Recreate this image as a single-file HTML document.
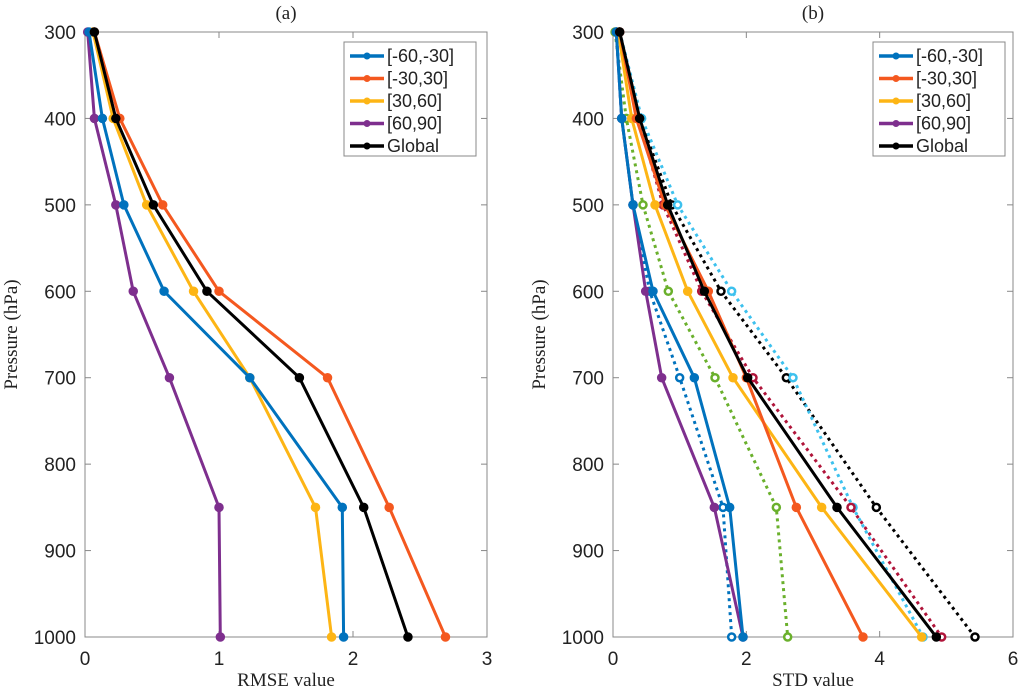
<!DOCTYPE html>
<html><head><meta charset="utf-8">
<style>
html,body{margin:0;padding:0;background:#fff;}
svg text{fill:#222;}
.tick{font-family:"Liberation Sans",sans-serif;font-size:19px;}
.ser{font-family:"Liberation Serif",serif;font-size:19px;}
.leg{font-family:"Liberation Sans",sans-serif;font-size:18px;}
</style></head>
<body>
<svg id="chart" width="1024" height="691" xmlns="http://www.w3.org/2000/svg"></svg>
<script>
const levels=[300,400,500,600,700,850,1000];
const yTicks=[300,400,500,600,700,800,900,1000];
const xTicksA=[0,1,2,3];
const xTicksB=[0,2,4,6];
const legendLabels=["[-60,-30]","[-30,30]","[30,60]","[60,90]","Global"];
// panel a RMSE
const rmseS=[0.03,0.13,0.29,0.59,1.23,1.92,1.93];
const rmseT=[0.07,0.26,0.58,1.0,1.81,2.27,2.69];
const rmseN=[0.06,0.21,0.46,0.81,1.23,1.72,1.84];
const rmseP=[0.02,0.07,0.23,0.36,0.63,1.0,1.01];
const rmseG=[0.07,0.23,0.51,0.91,1.6,2.08,2.41];
// panel b STD solid
const stdS=[0.05,0.13,0.3,0.6,1.22,1.75,1.95];
const stdT=[0.1,0.35,0.78,1.43,2.0,2.75,3.75];
const stdN=[0.08,0.28,0.63,1.12,1.8,3.13,4.63];
const stdP=[0.05,0.13,0.3,0.49,0.73,1.52,1.95];
const stdG=[0.1,0.4,0.82,1.37,2.02,3.36,4.85];
// panel b STD dotted
const dotBlue=[0.05,0.13,0.3,0.55,1.0,1.65,1.78];
const dotGreen=[0.03,0.2,0.45,0.83,1.53,2.45,2.62];
const dotRed=[0.1,0.38,0.75,1.33,2.1,3.57,4.93];
const dotCyan=[0.1,0.43,0.97,1.78,2.7,3.6,4.65];
const dotBlack=[0.1,0.4,0.88,1.62,2.6,3.95,5.43];

const C={blue:"#0072BD",orange:"#F4581F",yellow:"#FDB515",purple:"#7E2F8E",black:"#000",cyan:"#3DC1EE",green:"#6AB02C",red:"#B0143A"};
const svg=document.getElementById('chart');
const NS="http://www.w3.org/2000/svg";
function mk(tag,attrs,parent){const e=document.createElementNS(NS,tag);for(const k in attrs)e.setAttribute(k,attrs[k]);(parent||svg).appendChild(e);return e;}
const Y0=32,Y1=637;
function yS(p){return Y0+(p-300)/700*(Y1-Y0);}

function panel(x0,x1,xmax,xTicks,title,xlabel,series,legendX){
  const xS=v=>x0+v/xmax*(x1-x0);
  const g=mk('g',{});
  
  
  const box=mk('rect',{x:x0,y:Y0,width:x1-x0,height:Y1-Y0,fill:'none',stroke:'#888','stroke-width':1},g);
  
  
  xTicks.forEach(v=>{
    const x=xS(v);
    mk('line',{x1:x,x2:x,y1:Y1,y2:Y1-6,stroke:'#888'},g);
    mk('line',{x1:x,x2:x,y1:Y0,y2:Y0+6,stroke:'#888'},g);
    const t=mk('text',{x:x,y:Y1+28,'text-anchor':'middle',class:'tick'},g);t.textContent=v;
    
    
  });
  yTicks.forEach(p=>{
    const y=yS(p);
    mk('line',{x1:x0,x2:x0+6,y1:y,y2:y,stroke:'#888'},g);
    mk('line',{x1:x1,x2:x1-6,y1:y,y2:y,stroke:'#888'},g);
    const t=mk('text',{x:x0-9,y:y+7,'text-anchor':'end',class:'tick'},g);t.textContent=p;
    
    
  });
  const tt=mk('text',{x:(x0+x1)/2,y:19,'text-anchor':'middle',class:'ser'},g);tt.textContent=title;
  
  
  const xl=mk('text',{x:(x0+x1)/2,y:686,'text-anchor':'middle',class:'ser'},g);xl.textContent=xlabel;
  
  
  const yl=mk('text',{x:0,y:0,'text-anchor':'middle',class:'ser',transform:`translate(${x0-68},${(Y0+Y1)/2}) rotate(-90)`},g);yl.textContent='Pressure (hPa)';
  
  
  series.forEach(s=>{
    const pts=s.v.map((v,i)=>xS(v).toFixed(1)+','+yS(levels[i]).toFixed(1)).join(' ');
    const pl=mk('polyline',{points:pts,fill:'none',stroke:s.c,'stroke-width':3,'stroke-dasharray':s.d?'3 4':'none'},g);
    
    
    s.v.forEach((v,i)=>{
      const m=mk('circle',{cx:xS(v),cy:yS(levels[i]),r:3.5,fill:s.d?'#fff':s.c,stroke:s.c,'stroke-width':2.5},g);
      
      
    });
  });
  const lg=mk('g',{},g);
  
  
  mk('rect',{x:legendX,y:42,width:132,height:114,fill:'#fff',stroke:'#888'},lg);
  const lc=[C.blue,C.orange,C.yellow,C.purple,C.black];
  legendLabels.forEach((l,i)=>{
    const y=56+i*22.5;
    mk('line',{x1:legendX+6,x2:legendX+40,y1:y,y2:y,stroke:lc[i],'stroke-width':3.5},lg);
    mk('circle',{cx:legendX+23,cy:y,r:3.5,fill:lc[i]},lg);
    const t=mk('text',{x:legendX+43,y:y+6,class:'leg'},lg);t.textContent=l;
    
    
  });
}
panel(85,487,3,xTicksA,'(a)','RMSE value',[
  {v:rmseP,c:C.purple,n:'60-90'},{v:rmseN,c:C.yellow,n:'30-60'},{v:rmseS,c:C.blue,n:'m60-m30'},
  {v:rmseT,c:C.orange,n:'m30-30'},{v:rmseG,c:C.black,n:'global'}],344);
panel(613,1013,6,xTicksB,'(b)','STD value',[
  {v:dotBlack,c:C.black,d:1,n:'global-dotted'},{v:dotCyan,c:C.cyan,d:1,n:'cyan-dotted'},
  {v:dotRed,c:C.red,d:1,n:'red-dotted'},{v:dotGreen,c:C.green,d:1,n:'green-dotted'},
  {v:dotBlue,c:C.blue,d:1,n:'blue-dotted'},
  {v:stdP,c:C.purple,n:'60-90'},{v:stdN,c:C.yellow,n:'30-60'},{v:stdS,c:C.blue,n:'m60-m30'},
  {v:stdT,c:C.orange,n:'m30-30'},{v:stdG,c:C.black,n:'global'}],873);
</script>
</body></html>
